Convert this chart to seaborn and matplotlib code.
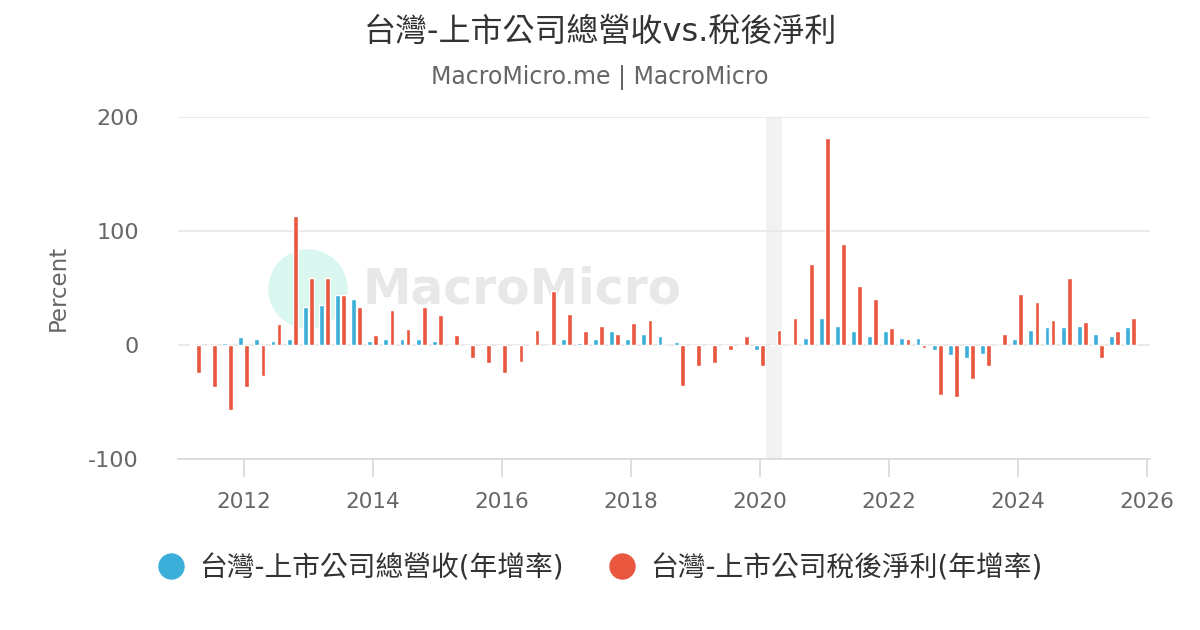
import numpy as np
import pandas as pd
import matplotlib
matplotlib.use('Agg')
import matplotlib.pyplot as plt
import seaborn as sns
from matplotlib.patches import Ellipse
from matplotlib.lines import Line2D

# ---------------- data ----------------
quarters = pd.period_range('2011Q2', '2025Q4', freq='Q')
revenue_yoy = [0.5, 0, 1.5, 7, 5.5, 3.5, 5.5, 33, 35, 44,
               40, 3.5, 5.5, 5.5, 5.5, 3.5, 0, 0, -1, -1,
               0, 1, 0, 5, 1.5, 5, 12, 5, 10, 8,
               3, 0, 0, 0, 0, -4, 0, 0, 6.5, 24,
               17, 12, 8, 12, 6.5, 6.5, -4, -9, -11, -8,
               0, 5, 13.5, 15.5, 15.5, 17, 10, 8, 15.5]
profit_yoy = [-25, -37, -57, -37, -27, 18, 113, 59, 59, 44,
              33, 9, 31, 14, 33, 26, 9, -11, -16, -25,
              -15, 13.5, 47, 27.5, 12, 17, 10, 19, 22, 0,
              -36, -18, -16, -4, 8, -18, 13.5, 24, 71, 182,
              89, 52, 40, 15, 5, -3, -44, -46, -30, -18,
              10, 45, 38, 22, 59, 20.5, -11, 12, 24]
series_names = ['台灣-上市公司總營收(年增率)', '台灣-上市公司稅後淨利(年增率)']
series_colors = ['#3BAFDA', '#E9573F']
title = '台灣-上市公司總營收vs.稅後淨利'
subtitle = 'MacroMicro.me | MacroMicro'
x_ticks = [2012, 2014, 2016, 2018, 2020, 2022, 2024, 2026]
y_ticks = [-100, 0, 100, 200]
recession = (2020.1, 2020.34)

# ---------------- build ----------------
pos = np.round(quarters.year + (quarters.quarter - 1) * 0.25, 4)
df = pd.DataFrame({
    'pos': np.concatenate([pos, pos]),
    'value': revenue_yoy + profit_yoy,
    'series': [series_names[0]] * len(pos) + [series_names[1]] * len(pos),
})

sns.set_theme(style='white')
plt.rcParams['font.family'] = ['DejaVu Sans', 'Noto Sans CJK TC']

fig = plt.figure(figsize=(12, 6.3), dpi=100)
ax = fig.add_axes([178/1200, 1-459/630, 972/1200, 342/630])

# watermark
ax.add_patch(Ellipse((308/1200, 1-289/630), 78/1200, 78/630, transform=fig.transFigure,
                     color='#daf6f0', zorder=0.3, clip_on=False))
ax.text(362/1200, 1-290/630, 'MacroMicro', transform=fig.transFigure, fontsize=35,
        fontweight='semibold', color='#e8e8e8', va='center', ha='left', zorder=0.3)

ax.axvspan(*recession, color='#f2f2f2', zorder=0.2, lw=0)

sns.barplot(data=df, x='pos', y='value', hue='series', native_scale=True,
            palette=series_colors, width=0.75, gap=0.2, saturation=1, errorbar=None,
            legend=False, dodge=True, ax=ax, zorder=2)

ax.set_xlim(2010.98, 2026.05)
ax.set_ylim(-100, 200)
ax.set_xticks(x_ticks)
ax.set_xticklabels([str(t) for t in x_ticks])
ax.set_yticks(y_ticks)
ax.set_yticklabels([str(t) for t in y_ticks])
ax.yaxis.grid(True, color='#e6e6e6', lw=1.2, zorder=0)
ax.set_axisbelow(True)
for s in ['top', 'right', 'left']:
    ax.spines[s].set_visible(False)
ax.spines['bottom'].set_color('#d8d8d8')
ax.spines['bottom'].set_linewidth(1.2)
ax.tick_params(axis='x', bottom=True, length=13, width=1.2, color='#d8d8d8',
               labelsize=15.5, labelcolor='#666666', pad=11)
ax.tick_params(axis='y', left=False, labelsize=16, labelcolor='#666666', pad=22)
ax.set_xlabel('')
ax.set_ylabel('Percent', fontsize=16.5, color='#666666')
ax.yaxis.set_label_coords(-0.111, 0.5)

fig.text(0.5, 1-32/630, title, ha='center', va='center', fontsize=23, color='#333333')
fig.text(0.5, 1-78/630, subtitle, ha='center', va='center', fontsize=17, color='#666666')

handles = [Line2D([], [], marker='o', ls='', markersize=19, color=c, markeredgewidth=0)
           for c in series_colors]
fig.legend(handles, series_names, loc='center', bbox_to_anchor=(0.494, 1-568/630), ncol=2,
           frameon=False, fontsize=20, handletextpad=0.0, columnspacing=1.1,
           labelcolor='#333333')

fig.savefig('out.png', dpi=100)
